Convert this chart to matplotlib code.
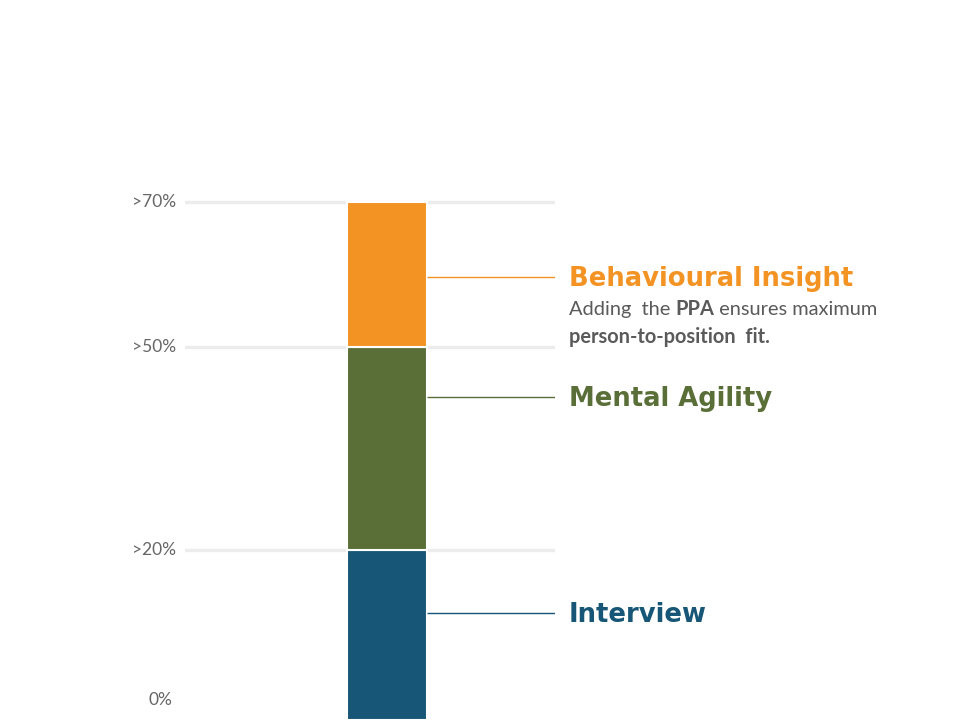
import numpy as np
import matplotlib
matplotlib.use("Agg")
import matplotlib.pyplot as plt

# ---- data ----
segments = ["Interview", "Mental Agility", "Behavioural Insight"]
seg_bottoms = [0, 20, 50]
seg_tops = [20, 50, 70]
seg_colors = ["#175676", "#5A6E38", "#F39323"]
label_levels = [12.6, 42.6, 59.7]
tick_values = [0, 20, 50, 70]
tick_labels = ["0%", ">20%", ">50%", ">70%"]
subtitle_line1 = ["Adding  the ", "PPA", " ensures maximum"]
subtitle_line1_bold = [False, True, False]
subtitle_line2 = "person-to-position  fit."

# piecewise (non-linear) vertical scale as in the reference
knots_v = np.array([-10, 0, 20, 50, 70, 100])
knots_p = np.array([-85, 0, 170, 373, 518, 735.5])

def fwd(v):
    return np.interp(v, knots_v, knots_p)

def inv(p):
    return np.interp(p, knots_p, knots_v)

plt.rcParams['font.family'] = ['Lato', 'DejaVu Sans']
fig = plt.figure(figsize=(9.6, 7.2), dpi=100)
ax = fig.add_axes([185/960, 0, 370/960, 1])
ax.set_yscale('function', functions=(fwd, inv))
ax.set_xlim(-2.525, 2.1)
ax.set_ylim(0, inv(720))

for s in ax.spines.values():
    s.set_visible(False)
ax.set_xticks([])
ax.set_yticks([])

# gridlines (not at 0)
for v in tick_values[1:]:
    ax.axhline(v, color="#ececec", lw=2.4, zorder=0)

# stacked bar
for b, t, c in zip(seg_bottoms, seg_tops, seg_colors):
    ax.bar(0, t - b, bottom=b, width=1.0, color=c, edgecolor="white",
           linewidth=1.5, zorder=2)

# tick labels
for v, lab in zip(tick_values, tick_labels):
    ax.annotate(lab, xy=(0, v), xycoords=('axes fraction', 'data'),
                xytext=(-6.5 if v else -9, 14.4 if v == 0 else 0),
                textcoords='offset points', ha='right', va='center',
                fontsize=12.5, color="#666666")

# connectors + labels
for lvl, c, name in zip(label_levels, seg_colors, segments):
    ax.plot([0.5, 2.1], [lvl, lvl], color=c, lw=1.0, zorder=3,
            solid_capstyle='butt')
    ax.annotate(name, xy=(1, lvl), xycoords=('axes fraction', 'data'),
                xytext=(10.1, -1.5), textcoords='offset points',
                ha='left', va='center', fontsize=18.6, fontweight='bold',
                family=['DejaVu Sans'],
                color=c, annotation_clip=False)

# subtitle under Behavioural Insight
lvl = label_levels[2]
sub_fs = 14.4
prev = ax.annotate(subtitle_line1[0], xy=(1, lvl), xycoords=('axes fraction', 'data'),
                   xytext=(10.1, -23.5), textcoords='offset points',
                   ha='left', va='center', fontsize=sub_fs, color="#5a5a5a",
                   fontweight='bold' if subtitle_line1_bold[0] else 'normal',
                   annotation_clip=False)
for txt, bold in zip(subtitle_line1[1:], subtitle_line1_bold[1:]):
    prev = ax.annotate(txt, xy=(1, 0.5), xycoords=prev,
                       ha='left', va='center', fontsize=sub_fs, color="#5a5a5a",
                       fontweight='bold' if bold else 'normal',
                       annotation_clip=False)
ax.annotate(subtitle_line2, xy=(1, lvl), xycoords=('axes fraction', 'data'),
            xytext=(10.1, -43.5), textcoords='offset points',
            ha='left', va='center', fontsize=sub_fs, color="#5a5a5a",
            fontweight='bold', annotation_clip=False)

fig.savefig("out.png", dpi=100)
